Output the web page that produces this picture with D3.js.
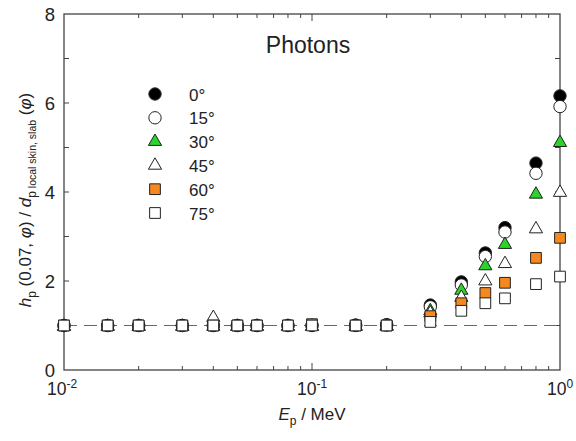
<!DOCTYPE html>
<html>
<head>
<meta charset="utf-8">
<script src="https://cdn.jsdelivr.net/npm/d3@7"></script>
<style>
  body { margin: 0; background: #fff; }
  text { font-family: Arial, "Liberation Sans", sans-serif; fill: #222; }
</style>
</head>
<body>
<svg id="chart" width="576" height="441"></svg>
<script>
// photon energies, MeV
const energies = [0.01, 0.015, 0.02, 0.03, 0.04, 0.05, 0.06, 0.08, 0.1, 0.15, 0.2, 0.3, 0.4, 0.5, 0.6, 0.8, 1.0]

// ratio per incidence angle
const ratio0  = [1, 1, 1, 1, 1, 1, 1, 1, 1, 1.01, 1.02, 1.46, 1.98, 2.63, 3.2, 4.65, 6.16]
const ratio15 = [1, 1, 1, 1, 1, 1, 1, 1, 1, 1, 1.01, 1.42, 1.91, 2.55, 3.1, 4.42, 5.92]
const ratio30 = [1, 1, 1, 1, 1, 1, 1, 1, 1, 1, 1.01, 1.35, 1.81, 2.36, 2.84, 3.97, 5.13]
const ratio45 = [1, 1, 1, 1, 1.2, 1, 1, 1, 1, 1, 1, 1.3, 1.65, 2.02, 2.41, 3.19, 4.01]
const ratio60 = [1, 1, 1, 1, 1, 1, 1, 1, 1.03, 1, 1, 1.21, 1.5, 1.73, 1.96, 2.52, 2.97]
const ratio75 = [1, 1, 1, 1, 1, 1, 1, 1, 1, 1, 1, 1.08, 1.33, 1.5, 1.61, 1.93, 2.1]

const angleLabels = ["0°", "15°", "30°", "45°", "60°", "75°"]
const yTicks = [0, 2, 4, 6, 8]
const xTicks = [0.01, 0.1, 1]
const xTickExp = ["-2", "-1", "0"]

const series = [
  { label: angleLabels[0], values: ratio0,  shape: d3.symbolCircle,   size: 120, fill: "#000" },
  { label: angleLabels[1], values: ratio15, shape: d3.symbolCircle,   size: 120, fill: "#fff" },
  { label: angleLabels[2], values: ratio30, shape: d3.symbolTriangle, size: 75,  fill: "#2ad42a" },
  { label: angleLabels[3], values: ratio45, shape: d3.symbolTriangle, size: 75,  fill: "#fff" },
  { label: angleLabels[4], values: ratio60, shape: d3.symbolSquare,   size: 115, fill: "#f5891f" },
  { label: angleLabels[5], values: ratio75, shape: d3.symbolSquare,   size: 115, fill: "#fff" }
]

const margin = { top: 14, right: 16, bottom: 71, left: 64 }
const W = 576, H = 441
const svg = d3.select("#chart")

const x = d3.scaleLog().domain([0.01, 1]).range([margin.left, W - margin.right])
const y = d3.scaleLinear().domain([0, 8]).range([H - margin.bottom, margin.top])

const axisColor = "#444"

// minor log ticks
var minorX = []
for (let d = 0.01; d < 1; d *= 10) {
  for (let k = 2; k <= 9; k++) minorX.push(d * k)
}

// bottom + top ticks (inward)
const gx = svg.append("g")
gx.selectAll("line.bot").data(minorX).join("line")
  .attr("x1", d => x(d)).attr("x2", d => x(d))
  .attr("y1", y(0)).attr("y2", y(0) - 4)
  .attr("stroke", axisColor)
gx.selectAll("line.top").data(minorX).join("line")
  .attr("x1", d => x(d)).attr("x2", d => x(d))
  .attr("y1", y(8)).attr("y2", y(8) + 4)
  .attr("stroke", axisColor)
gx.selectAll("line.maj").data([0.1]).join("line")
  .attr("x1", d => x(d)).attr("x2", d => x(d))
  .attr("y1", y(0)).attr("y2", y(0) - 7)
  .attr("stroke", axisColor)
gx.selectAll("line.majt").data([0.1]).join("line")
  .attr("x1", d => x(d)).attr("x2", d => x(d))
  .attr("y1", y(8)).attr("y2", y(8) + 7)
  .attr("stroke", axisColor)

// left + right ticks every 1 unit
const yAll = d3.range(1, 8)
svg.append("g").selectAll("line").data(yAll).join("line")
  .attr("x1", x(0.01)).attr("x2", x(0.01) + 5)
  .attr("y1", d => y(d)).attr("y2", d => y(d))
  .attr("stroke", axisColor)
svg.append("g").selectAll("line").data(yAll).join("line")
  .attr("x1", x(1)).attr("x2", x(1) - 5)
  .attr("y1", d => y(d)).attr("y2", d => y(d))
  .attr("stroke", axisColor)

// frame
svg.append("rect")
  .attr("x", x(0.01)).attr("y", y(8))
  .attr("width", x(1) - x(0.01)).attr("height", y(0) - y(8))
  .attr("fill", "none").attr("stroke", axisColor).attr("stroke-width", 1.3)

// y tick labels
svg.append("g").selectAll("text").data(yTicks).join("text")
  .attr("x", x(0.01) - 9).attr("y", d => y(d) + 6.5)
  .attr("text-anchor", "end").attr("font-size", 18.5)
  .text(d => d)

// x tick labels 10^n
const xl = svg.append("g").selectAll("text").data(xTicks).join("text")
  .attr("x", (d, i) => x(d) + (i == 0 ? -2 : 0)).attr("y", y(0) + 25)
  .attr("text-anchor", "middle").attr("font-size", 17.5)
xl.append("tspan").text("10")
xl.append("tspan").attr("dy", -7).attr("font-size", 12).text((d, i) => xTickExp[i])

// x axis title
const xt = svg.append("text")
  .attr("x", (x(0.01) + x(1)) / 2).attr("y", 420)
  .attr("text-anchor", "middle").attr("font-size", 17)
xt.append("tspan").attr("font-style", "italic").text("E")
xt.append("tspan").attr("dy", 5).attr("font-size", 12).text("p")
xt.append("tspan").attr("dy", -5).text(" / MeV")

// y axis title
const yt = svg.append("text")
  .attr("transform", `translate(31,${(y(0) + y(8)) / 2 + 8}) rotate(-90)`)
  .attr("text-anchor", "middle").attr("font-size", 17)
yt.append("tspan").attr("font-style", "italic").text("h")
yt.append("tspan").attr("dy", 5).attr("font-size", 12).text("p")
yt.append("tspan").attr("dy", -5).text(" (0.07, ")
yt.append("tspan").attr("font-style", "italic").text("φ")
yt.append("tspan").text(")  /  ")
yt.append("tspan").attr("font-style", "italic").text("d")
yt.append("tspan").attr("dy", 5).attr("font-size", 12).text("p")
yt.append("tspan").attr("font-size", 10.5).text(" local skin, slab")
yt.append("tspan").attr("dy", -5).text(" (")
yt.append("tspan").attr("font-style", "italic").text("φ")
yt.append("tspan").text(")")

// reference line at 1
svg.append("line")
  .attr("x1", x(0.01)).attr("x2", x(1))
  .attr("y1", y(1)).attr("y2", y(1))
  .attr("stroke", "#666").attr("stroke-width", 1.2)
  .attr("stroke-dasharray", "13,7")

// points
series.forEach(s => {
  const sym = d3.symbol().type(s.shape).size(s.size)
  svg.append("g").selectAll("path").data(s.values).join("path")
    .attr("d", sym)
    .attr("transform", (d, i) => `translate(${x(energies[i])},${y(d) + (s.shape === d3.symbolTriangle ? 1 : 0)})`)
    .attr("fill", s.fill).attr("stroke", "#222").attr("stroke-width", 1)
})

// title
svg.append("text").attr("x", 308).attr("y", 53)
  .attr("text-anchor", "middle").attr("font-size", 23)
  .text("Photons")

// legend
const leg = svg.append("g").selectAll("g").data(series).join("g")
  .attr("transform", (d, i) => `translate(155,${94 + i * 23.8})`)
leg.append("path")
  .attr("d", d => d3.symbol().type(d.shape).size(d.size)())
  .attr("fill", d => d.fill).attr("stroke", "#222")
leg.append("text").attr("x", 34).attr("y", 6.5)
  .attr("font-size", 17).text(d => d.label)
</script>
</body>
</html>
